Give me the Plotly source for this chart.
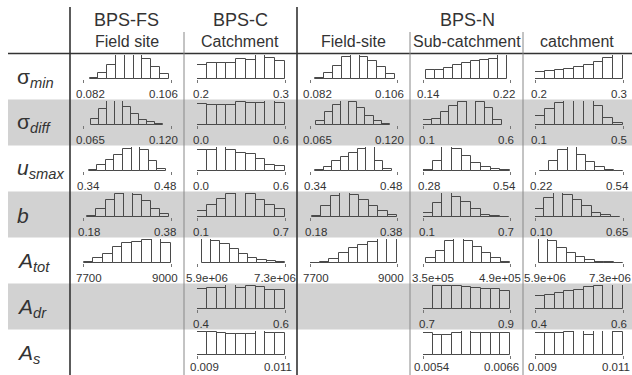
import plotly.graph_objects as go

W, H = 632, 375

# ---------------- data ----------------
row_labels = ["σ<sub><i>min</i></sub>", "σ<sub><i>diff</i></sub>", "<i>u<sub>smax</sub></i>",
              "<i>b</i>", "<i>A<sub>tot</sub></i>", "<i>A<sub>dr</sub></i>", "<i>A<sub>s</sub></i>"]
group_titles = ["BPS-FS", "BPS-C", "BPS-N"]
column_titles = ["Field site", "Catchment", "Field-site", "Sub-catchment", "catchment"]

# tick labels (axis ends) per row; None = no histogram
fs_ticks = [("0.082", "0.106"), ("0.065", "0.120"), ("0.34", "0.48"), ("0.18", "0.38"), ("7700", "9000"), None, None]
c_ticks = [("0.2", "0.3"), ("0.0", "0.6"), ("0.0", "0.6"), ("0.1", "0.7"), ("5.9e+06", "7.3e+06"), ("0.4", "0.6"), ("0.009", "0.011")]
nf_ticks = [("0.082", "0.106"), ("0.065", "0.120"), ("0.34", "0.48"), ("0.18", "0.38"), ("7700", "9000"), None, None]
ns_ticks = [("0.14", "0.22"), ("0.1", "0.6"), ("0.28", "0.54"), ("0.1", "0.7"), ("3.5e+05", "4.9e+05"), ("0.7", "0.9"), ("0.0054", "0.0066")]
nc_ticks = [("0.2", "0.3"), ("0.1", "0.5"), ("0.22", "0.54"), ("0.10", "0.65"), ("5.9e+06", "7.3e+06"), ("0.4", "0.6"), ("0.009", "0.011")]

# histogram break span (first, last break) per row
fs_breaks = [(0.0838, 0.1054), (0.070, 0.115), (0.349, 0.472), (0.190, 0.376), (7710, 9000), None, None]
c_breaks = [(0.2, 0.3), (0.0, 0.6), (0.0, 0.6), (0.1, 0.7), (5.977e6, 7.3e6), (0.4, 0.6), (0.009, 0.011)]
nf_breaks = [(0.0834, 0.1055), (0.069, 0.1156), (0.348, 0.4716), (0.184, 0.38), (7700, 9000), None, None]
ns_breaks = [(0.1432, 0.2176), (0.1, 0.555), (0.28, 0.54), (0.1, 0.695), (3.556e5, 4.9e5), (0.7, 0.9), (0.0054, 0.0066)]
nc_breaks = [(0.2, 0.3), (0.1, 0.5), (0.238, 0.54), (0.1, 0.6335), (5.956e6, 7.3e6), (0.4, 0.6), (0.009, 0.011)]

# relative bar heights per row
fs_heights = [
    [0.04, 0.27, 0.59, 1.0, 1.0, 1.0, 0.82, 0.52, 0.22],
    [0.27, 0.68, 1.0, 1.0, 0.75, 0.45, 0.22, 0.12, 0.05],
    [0.03, 0.23, 0.45, 0.68, 0.9, 1.0, 0.86, 0.43, 0.1],
    [0.05, 0.35, 0.7, 0.97, 1.0, 0.9, 0.65, 0.35, 0.12],
    [0.05, 0.2, 0.37, 0.68, 0.85, 0.88, 0.95, 1.0, 0.85],
    None, None]
c_heights = [
    [0.6, 0.67, 0.67, 0.68, 0.85, 0.8, 1.0, 0.87, 0.75],
    [0.88, 0.85, 0.82, 0.84, 0.96, 0.93, 0.93, 1.0, 0.92],
    [0.86, 0.86, 1.0, 0.86, 0.76, 0.69, 0.51, 0.26, 0.21],
    [0.24, 0.48, 0.75, 0.96, 1.0, 0.94, 0.72, 0.49, 0.33],
    [1.0, 0.93, 0.8, 0.58, 0.36, 0.21, 0.11, 0.07, 0.04],
    [0.85, 0.86, 0.86, 1.0, 0.88, 0.97, 0.9, 0.8, 0.78],
    [0.95, 0.95, 0.92, 0.87, 0.87, 0.87, 1.0, 0.93, 0.92]]
nf_heights = [
    [0.04, 0.25, 0.55, 0.9, 1.0, 0.9, 0.75, 0.5, 0.2],
    [0.15, 0.55, 0.85, 1.0, 0.96, 0.7, 0.38, 0.15, 0.05],
    [0.03, 0.15, 0.43, 0.57, 0.76, 0.92, 1.0, 0.4, 0.1],
    [0.05, 0.45, 0.88, 1.0, 0.93, 0.7, 0.47, 0.27, 0.1],
    [0.02, 0.05, 0.15, 0.4, 0.62, 0.77, 0.87, 1.0, 1.0],
    None, None]
ns_heights = [
    [0.36, 0.38, 0.45, 0.6, 0.66, 0.75, 0.78, 0.82, 1.0],
    [0.2, 0.25, 0.55, 0.78, 0.96, 1.0, 0.96, 0.72, 0.22],
    [0.03, 0.42, 1.0, 0.93, 0.62, 0.35, 0.17, 0.08, 0.03],
    [0.15, 0.6, 1.0, 0.85, 0.62, 0.35, 0.1, 0.04, 0.02],
    [0.19, 0.5, 0.9, 1.0, 0.92, 0.66, 0.4, 0.2, 0.05],
    [1.0, 0.97, 0.96, 0.95, 0.9, 0.88, 0.84, 0.83, 0.75],
    [0.9, 0.85, 0.85, 0.9, 1.0, 0.93, 0.9, 0.93, 0.9]]
nc_heights = [
    [0.3, 0.34, 0.36, 0.42, 0.48, 0.6, 0.72, 0.88, 1.0],
    [0.37, 0.66, 0.93, 1.0, 1.0, 0.98, 0.78, 0.3, 0.1],
    [0.02, 0.43, 0.88, 1.0, 0.68, 0.36, 0.17, 0.04, 0.02],
    [0.32, 0.78, 0.98, 0.93, 0.72, 0.45, 0.18, 0.07, 0.02],
    [1.0, 0.9, 0.62, 0.4, 0.24, 0.12, 0.06, 0.03, 0.02],
    [0.55, 0.6, 0.68, 0.74, 0.8, 0.93, 0.95, 1.0, 1.0],
    [0.92, 0.9, 0.92, 0.95, 1.0, 0.82, 1.0, 1.0, 0.96]]

columns = [
    (fs_ticks, fs_breaks, fs_heights),
    (c_ticks, c_breaks, c_heights),
    (nf_ticks, nf_breaks, nf_heights),
    (ns_ticks, ns_breaks, ns_heights),
    (nc_ticks, nc_breaks, nc_heights),
]

# ---------------- layout geometry (pixels) ----------------
def px(x):
    return x / W

def py(y):
    return 1 - y / H

axis_px = [(83, 171), (197, 285), (310, 397), (423, 510), (535, 623)]
header_line = 53.5
row_h = 46
bar_h = 24
TEXT = "#333333"
FONT = "Liberation Sans, Arial, sans-serif"
TICK_FS = 11.5

fig = go.Figure()
shapes = []
annotations = []

# grey bands
for r in (1, 3, 5):
    top = header_line + row_h * r
    shapes.append(dict(type="rect", xref="paper", yref="paper", x0=px(8), x1=1,
                       y0=py(top + row_h), y1=py(top), fillcolor="#d2d2d2",
                       line=dict(width=0), layer="below"))

# grid lines
shapes.append(dict(type="line", xref="paper", yref="paper", x0=px(8), x1=1,
                   y0=py(header_line), y1=py(header_line), line=dict(color="#333", width=1.6)))
for x, y0, wdt, col in [(70, 7, 1.6, "#333"), (297, 7, 1.6, "#333"),
                        (184, 32, 1, "#888"), (410, 32, 1, "#888"), (523, 32, 1, "#888")]:
    shapes.append(dict(type="line", xref="paper", yref="paper", x0=px(x), x1=px(x),
                       y0=py(y0), y1=0, line=dict(color=col, width=wdt)))

# headers
centers = [127, 240, 353, 467, 577]
for title, cx in zip(group_titles, [127, 240, 467]):
    annotations.append(dict(text=title, xref="paper", yref="paper", x=px(cx), y=py(20),
                            showarrow=False, xanchor="center", yanchor="middle",
                            font=dict(size=18, color=TEXT, family=FONT)))
for title, cx in zip(column_titles, centers):
    annotations.append(dict(text=title, xref="paper", yref="paper", x=px(cx), y=py(42),
                            showarrow=False, xanchor="center", yanchor="middle",
                            font=dict(size=16, color=TEXT, family=FONT)))

# row labels
for r, lab in enumerate(row_labels):
    top = header_line + row_h * r
    annotations.append(dict(text=lab, xref="paper", yref="paper", x=px(15), y=py(top + 24),
                            showarrow=False, xanchor="left", yanchor="middle",
                            font=dict(size=21, color=TEXT, family=FONT)))


def label_width(s):
    return sum(0.28 if ch == "." else (0.58 if ch == "+" else 0.556) for ch in s) * TICK_FS


# histograms
k = 0
for c, (ticks, breaks, heights) in enumerate(columns):
    for r in range(len(row_labels)):
        if heights[r] is None:
            continue
        k += 1
        lo_s, hi_s = ticks[r]
        lo, hi = float(lo_s), float(hi_s)
        b0, b1 = breaks[r]
        hs = heights[r]
        n = len(hs)
        wbin = (b1 - b0) / n
        xs = [b0 + wbin * (i + 0.5) for i in range(n)]
        top = header_line + row_h * r
        base = top + 25.5
        xa = "x" if k == 1 else f"x{k}"
        ya = "y" if k == 1 else f"y{k}"
        fig.add_trace(go.Bar(x=xs, y=hs, width=[wbin] * n, xaxis=xa, yaxis=ya,
                             marker=dict(color="rgba(0,0,0,0)", line=dict(color="#4a4a4a", width=1)),
                             cliponaxis=False, showlegend=False, hoverinfo="skip"))
        x0p, x1p = axis_px[c]
        suffix = "" if k == 1 else str(k)
        fig.layout["xaxis" + suffix] = dict(domain=[px(x0p), px(x1p)], range=[lo, hi],
                                            anchor=ya, tickvals=[lo, hi], ticks="outside",
                                            ticklen=3, tickwidth=1, tickcolor="#777",
                                            showticklabels=False, showgrid=False,
                                            zeroline=False, showline=False, fixedrange=True)
        fig.layout["yaxis" + suffix] = dict(domain=[py(base), py(base - bar_h)], range=[0, 1],
                                            anchor=xa, visible=False, fixedrange=True)
        lab_y = py(min(base + 15, H - 8))
        wl, wr = label_width(lo_s), label_width(hi_s)
        shift_r = -wr * 0.25
        overflow = x1p + shift_r + wr / 2 - (W - 1)
        if overflow > 0:
            shift_r -= overflow
        annotations.append(dict(text=lo_s, xref=xa, yref="paper", x=lo, y=lab_y,
                                xshift=wl * 0.25,
                                showarrow=False, xanchor="center", yanchor="middle",
                                font=dict(size=TICK_FS, color=TEXT, family=FONT)))
        annotations.append(dict(text=hi_s, xref=xa, yref="paper", x=hi, y=lab_y,
                                xshift=shift_r,
                                showarrow=False, xanchor="center", yanchor="middle",
                                font=dict(size=TICK_FS, color=TEXT, family=FONT)))

fig.update_layout(width=W, height=H, margin=dict(l=0, r=0, t=0, b=0),
                  paper_bgcolor="white", plot_bgcolor="rgba(0,0,0,0)",
                  shapes=shapes, annotations=annotations, bargap=0)

fig.write_html("out.html", config={"displayModeBar": False},
               post_script="document.body.style.margin='0';document.body.style.overflow='hidden';")
